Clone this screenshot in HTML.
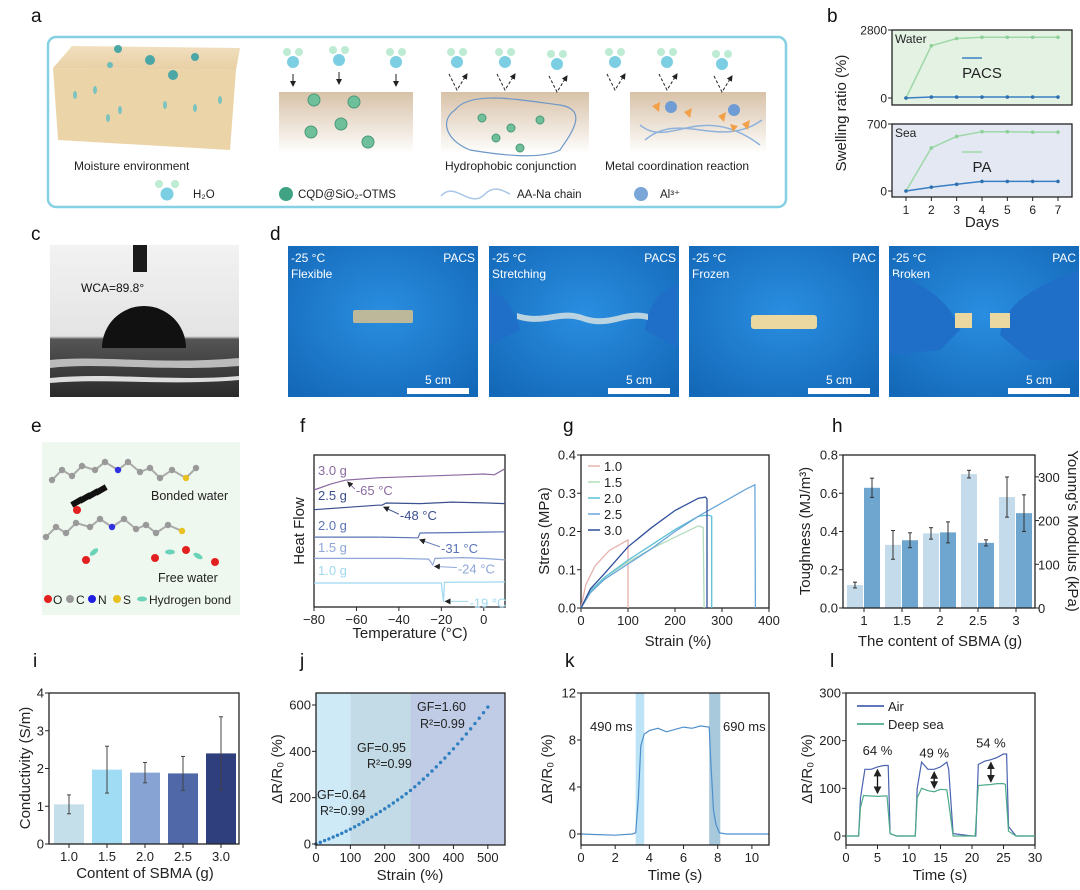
<!DOCTYPE html>
<html><head><meta charset="utf-8"><style>
html,body{margin:0;padding:0;background:#fff;}
svg{display:block;font-family:"Liberation Sans",Arial,sans-serif;}
</style></head><body>
<svg id="fig" width="1080" height="890" viewBox="0 0 1080 890" xmlns="http://www.w3.org/2000/svg">
<defs>
<linearGradient id="brown" x1="0" y1="0" x2="0" y2="1"><stop offset="0" stop-color="#d8c2a8"/><stop offset="1" stop-color="#ffffff"/></linearGradient>
<linearGradient id="tanTop" x1="0" y1="0" x2="0" y2="1"><stop offset="0" stop-color="#f1dfbf"/><stop offset="1" stop-color="#e8cfa4"/></linearGradient>
<linearGradient id="photoC" x1="0" y1="0" x2="0" y2="1"><stop offset="0" stop-color="#f2f2f2"/><stop offset="0.6" stop-color="#e4e4e4"/><stop offset="0.62" stop-color="#555"/><stop offset="1" stop-color="#2a2a2a"/></linearGradient>
<radialGradient id="blueBg" cx="0.5" cy="0.45" r="0.7"><stop offset="0" stop-color="#2a8ee0"/><stop offset="1" stop-color="#1468b8"/></radialGradient>
<marker id="ah" markerWidth="6" markerHeight="6" refX="5" refY="3" orient="auto-start-reverse"><path d="M0,0 L6,3 L0,6 z" fill="#222"/></marker>
</defs>

<g font-size="19" fill="#111">
<text x="31" y="22">a</text>
<text x="827" y="22">b</text>
<text x="31" y="240">c</text>
<text x="270" y="240">d</text>
<text x="31" y="432">e</text>
<text x="300" y="432">f</text>
<text x="563" y="432">g</text>
<text x="832" y="432">h</text>
<text x="33" y="667">i</text>
<text x="300" y="667">j</text>
<text x="565" y="667">k</text>
<text x="830" y="667">l</text>
</g>

<g>
<rect x="48" y="37" width="738" height="170" rx="8" fill="#fff" stroke="#86d0e4" stroke-width="2.5"/>
<g>
<polygon points="53,68 72,46 240,48 236,70" fill="url(#tanTop)"/>
<polygon points="53,68 236,70 230,150 58,140" fill="#ecd4a9"/>
<circle cx="118" cy="49" r="4" fill="#4aa7a5"/><circle cx="150" cy="60" r="5" fill="#4aa7a5"/><circle cx="195" cy="57" r="4" fill="#4aa7a5"/><circle cx="173" cy="75" r="5" fill="#4aa7a5"/><circle cx="110" cy="65" r="3" fill="#6cbcbc"/>
<ellipse cx="75" cy="95" rx="2" ry="4" fill="#7cc3c0"/><ellipse cx="95" cy="90" rx="2" ry="4" fill="#7cc3c0"/><ellipse cx="120" cy="110" rx="2" ry="4" fill="#7cc3c0"/><ellipse cx="165" cy="105" rx="2" ry="4" fill="#7cc3c0"/><ellipse cx="195" cy="108" rx="2" ry="4" fill="#7cc3c0"/><ellipse cx="108" cy="118" rx="2" ry="4" fill="#7cc3c0"/><ellipse cx="220" cy="100" rx="2" ry="4" fill="#7cc3c0"/>
</g>
<text x="74" y="170" font-size="12" fill="#222">Moisture environment</text>
<rect x="279" y="92" width="134" height="62" fill="url(#brown)"/>
<rect x="441" y="92" width="148" height="62" fill="url(#brown)"/>
<rect x="630" y="92" width="136" height="62" fill="url(#brown)"/>
<g id="molecules"></g>
<g fill="#6fbf9a" stroke="#4a9a7a">
<circle cx="314" cy="100" r="6"/><circle cx="354" cy="102" r="6"/><circle cx="341" cy="124" r="6"/><circle cx="311" cy="132" r="6"/><circle cx="368" cy="142" r="6"/>
<circle cx="482" cy="118" r="4"/><circle cx="511" cy="128" r="4"/><circle cx="496" cy="138" r="4"/><circle cx="540" cy="120" r="4"/><circle cx="520" cy="148" r="4"/>
</g>
<path d="M455,110 C470,90 520,100 560,105 C590,110 570,135 560,150 C540,160 500,155 470,150 C445,140 440,120 455,110z" fill="none" stroke="#6d98c8" stroke-width="1.2"/>
<path d="M640,125 C670,150 700,100 760,145 M645,140 C680,110 720,150 762,120" fill="none" stroke="#8fb2dc" stroke-width="1.5"/>
<circle cx="671" cy="107" r="6" fill="#6f9cd4"/><circle cx="734" cy="110" r="6" fill="#6f9cd4"/>
<g fill="#f2a04a"><polygon points="652,106 660,102 659,112"/><polygon points="684,112 692,108 690,118"/><polygon points="718,116 726,112 724,122"/><polygon points="742,124 750,120 748,130"/><polygon points="730,124 738,126 733,132"/></g>
<text x="445" y="170" font-size="12" fill="#222">Hydrophobic conjunction</text>
<text x="605" y="170" font-size="12" fill="#222">Metal coordination reaction</text>
<g font-size="11.5" fill="#222">
<circle cx="159" cy="184" r="4" fill="#bdebd3"/><circle cx="175" cy="184" r="4" fill="#bdebd3"/><circle cx="167" cy="194" r="6.5" fill="#7ccfe3"/>
<text x="193" y="198">H₂O</text>
<circle cx="286" cy="194" r="7" fill="#3fa383"/><text x="298" y="198">CQD@SiO₂-OTMS</text>
<path d="M441,196 C455,180 470,210 485,194 C495,184 505,192 510,194" fill="none" stroke="#a8c6e8" stroke-width="1.5"/><text x="517" y="198">AA-Na chain</text>
<circle cx="641" cy="194" r="7" fill="#7aa6d8"/><text x="660" y="198">Al³⁺</text>
</g>
</g>

<g id="panelB"></g>

<g>
<rect x="50" y="245" width="189" height="152" fill="url(#photoC)"/>
<path d="M50,360 C100,355 160,365 239,358 L239,366 C160,372 100,362 50,368z" fill="#bbb"/>
<path d="M50,378 C110,372 170,382 239,376 L239,380 C170,386 110,378 50,383z" fill="#ddd"/>
<rect x="133" y="245" width="14" height="27" fill="#1a1a1a"/>
<path d="M102,348 A42,42 0 0 1 186,348 z" fill="#111"/>
<text x="81" y="292" font-size="12" fill="#111">WCA=89.8°</text>
</g>

<g id="panelD"></g>

<g>
<rect x="42" y="442" width="198" height="173" fill="#eef8ee"/>
<g id="chains" fill="#999"></g>
<g fill="#111"><rect x="82" y="492" width="6" height="12" transform="rotate(60 85 498)"/><rect x="90" y="488" width="6" height="12" transform="rotate(60 93 494)"/><rect x="98" y="484" width="6" height="12" transform="rotate(60 101 490)"/><rect x="74" y="496" width="6" height="12" transform="rotate(60 77 502)"/></g>
<g fill="#e32020"><circle cx="77" cy="510" r="4"/><circle cx="86" cy="560" r="4"/><circle cx="155" cy="558" r="4"/><circle cx="186" cy="550" r="4"/><circle cx="215" cy="562" r="4"/></g>
<g fill="#6bd3b8"><ellipse cx="94" cy="552" rx="5" ry="2.5" transform="rotate(-40 94 552)"/><ellipse cx="170" cy="552" rx="5" ry="2.5"/><ellipse cx="198" cy="556" rx="5" ry="2.5" transform="rotate(30 198 556)"/></g>
<text x="151" y="500" font-size="12.5" fill="#222">Bonded water</text>
<text x="158" y="582" font-size="12.5" fill="#222">Free water</text>
<g font-size="12" fill="#222">
<circle cx="48" cy="599" r="4" fill="#e32020"/><text x="53" y="604">O</text>
<circle cx="70" cy="599" r="4" fill="#999"/><text x="76" y="604">C</text>
<circle cx="92" cy="599" r="4" fill="#2020e0"/><text x="98" y="604">N</text>
<circle cx="117" cy="599" r="4" fill="#e8c020"/><text x="123" y="604">S</text>
<ellipse cx="142" cy="599" rx="5" ry="2.5" fill="#6bd3b8"/><text x="149" y="604">Hydrogen bond</text>
</g>
</g>

<g id="panelF"></g>
<g id="panelG"></g>
<g id="panelH"></g>
<g id="panelI"></g>
<g id="panelJ"></g>
<g id="panelK"></g>
<g id="panelL"></g>
</svg>
<script>
// ---------- data ----------
const bDays = [1,2,3,4,5,6,7];
const bWaterPA = [0,2150,2450,2500,2500,2500,2500];
const bWaterPACS = [0,40,40,40,40,40,40];
const bSeaPA = [0,450,570,620,620,615,615];
const bSeaPACS = [0,40,70,100,100,100,100];

const fSeries = ['3.0 g','2.5 g','2.0 g','1.5 g','1.0 g'];
const fTemp = [
 [-80,-72,-65,-50,-30,-10,0,5,10],
 [-80,-60,-50,-48,-46,-30,-15,0,10],
 [-80,-50,-32,-31,-30,-10,0,10],
 [-80,-40,-26,-24,-23,-10,0,10],
 [-80,-40,-20,-19.5,-19,-18.5,-10,0,10]];
const fFlow = [
 [77,81,83.5,85,86,87,87.5,87,91],
 [64,66,67,67,68.4,68,69,68.5,68],
 [46,46,45.5,45.5,48.7,49,49.3,49.5],
 [32,32,31.5,27.6,32,32.5,32,31],
 [15.8,15.8,15.8,10,3.3,16.2,16.4,16.4,16.5]];
const fTransition = ['-65 °C','-48 °C','-31 °C','-24 °C','-19 °C'];
const fTransT = [-65,-48,-31,-24,-19];
const fTransV = [83.5,67,45.5,28,5];

const gSeries = ['1.0','1.5','2.0','2.5','3.0'];
const gStrain = [
 [0,10,30,60,100,100],
 [0,20,50,100,150,200,250,260,262],
 [0,20,50,100,150,200,250,270,278,278],
 [0,20,50,100,150,200,250,300,350,370,371],
 [0,20,50,100,150,200,250,265,268,268]];
const gStress = [
 [0,0.06,0.11,0.15,0.178,0],
 [0,0.04,0.08,0.12,0.155,0.185,0.215,0.21,0],
 [0,0.045,0.08,0.125,0.165,0.205,0.24,0.243,0.24,0],
 [0,0.04,0.075,0.115,0.155,0.2,0.24,0.275,0.31,0.322,0],
 [0,0.05,0.09,0.16,0.21,0.255,0.287,0.29,0.285,0]];

const hCats = ['1','1.5','2','2.5','3'];
const hTough = [0.12,0.33,0.39,0.70,0.58];
const hToughErr = [0.015,0.075,0.03,0.02,0.105];
const hModulus = [275,155,173,149,217];
const hModulusErr = [22,17,24,7,42];

const iCats = ['1.0','1.5','2.0','2.5','3.0'];
const iCond = [1.05,1.97,1.89,1.87,2.4];
const iErr = [0.25,0.62,0.27,0.45,0.97];

const jStrain = [0,12.5,25,37.5,50,62.5,75,87.5,100,112.5,125,137.5,150,162.5,175,187.5,200,212.5,225,237.5,250,262.5,275,287.5,300,312.5,325,337.5,350,362.5,375,387.5,400,412.5,425,437.5,450,462.5,475,487.5,500];
const jDR = [0,7,15,22,30,38,46,55,64,74,84,95,106,117,128,140,152,164,177,190,203,217,231,247,263,280,297,315,333,352,371,391,411,432,453,475,497,520,543,567,591];
const jRegions = [[0,100],[100,275],[275,550]];

const kTime = [0,1,2,3,3.2,3.35,3.5,3.7,4,4.5,5,5.5,6,6.5,7,7.5,7.6,7.75,7.9,8.1,8.5,9,10,11];
const kDR = [0,-0.05,-0.1,0,0.1,3,7.5,8.5,8.8,9.0,8.7,8.9,9.1,9.0,9.2,9.1,6,2,0.8,0.1,0,0,0,0];
const kBands = [[3.2,3.7],[7.5,8.15]];

const lAirT = [0,2,2.3,3,4,5,6,6.7,7,8,11,11.3,12,13,14,15,16,16.3,17,20,20.6,21,22,23,24,25,25.5,25.8,27,30];
const lAirV = [0,0,80,140,140,145,148,148,5,0,0,100,155,140,140,145,155,140,5,0,0,150,157,160,165,172,172,20,0,0];
const lSeaT = [0,2,2.3,2.8,4,5,6,6.5,7,8,11,11.3,12,13,14,15,16,16.3,17,20,20.5,21,22,23,24,25,25.3,25.8,27,30];
const lSeaV = [0,0,60,85,84,83,84,84,5,0,0,80,100,95,93,98,97,70,0,0,0,106,107,108,110,110,108,10,0,0];
const lDiffT = [5,14,23];
const lDiffTop = [145,140,160];
const lDiffBot = [84,95,108];
const lDiffLabel = ['64 %','49 %','54 %'];

// ---------- helpers ----------
const NS='http://www.w3.org/2000/svg';
function mk(tag,attrs,parent){const e=document.createElementNS(NS,tag);for(const k in attrs)e.setAttribute(k,attrs[k]);parent.appendChild(e);return e;}
function lin(d0,d1,r0,r1){return v=>r0+(v-d0)/(d1-d0)*(r1-r0);}
function txt(parent,x,y,s,size,anchor,fill,rot){const t=mk('text',{x:x,y:y,'font-size':size,'text-anchor':anchor||'start',fill:fill||'#222'},parent);if(rot!==undefined)t.setAttribute('transform','rotate('+rot+' '+x+' '+y+')');t.textContent=s;return t;}
function frame(g,x0,y0,x1,y1,fill){const r=mk('rect',{x:x0,y:y0,width:x1-x0,height:y1-y0,fill:fill||'none',stroke:'#222','stroke-width':1.3},g);return r;}
function xTicks(g,vals,labels,sx,y,size){vals.forEach((v,i)=>{mk('line',{x1:sx(v),x2:sx(v),y1:y,y2:y+4,stroke:'#222'},g);const t=txt(g,sx(v),y+17,labels[i],size||13,'middle');});}
function yTicks(g,vals,labels,sy,x,size){vals.forEach((v,i)=>{mk('line',{x1:x-4,x2:x,y1:sy(v),y2:sy(v),stroke:'#222'},g);const t=txt(g,x-5,sy(v)+4.5,labels[i],size||13,'end');});}
function path(xs,ys,sx,sy){return xs.map((v,i)=>(i?'L':'M')+sx(v).toFixed(1)+','+sy(ys[i]).toFixed(1)).join(' ');}

// ---------- panel b ----------
(function(){
 const g=document.getElementById('panelB');
 const X0=892,X1=1072; const sx=lin(1,7,906,1058);
 const subs=[{y0:30,y1:105,max:2800,top:30,zero:98,fill:'#e4f2e4',pa:bWaterPA,pacs:bWaterPACS,name:'Water',leg:'PACS',legc:'#3a7fc4'},
             {y0:124,y1:197,max:700,top:124,zero:191,fill:'#e3e8f2',pa:bSeaPA,pacs:bSeaPACS,name:'Sea',leg:'PA',legc:'#9fd8a8'}];
 subs.forEach(s=>{
  frame(g,X0,s.y0,X1,s.y1,s.fill);
  const sy=lin(0,s.max,s.zero,s.top);
  yTicks(g,[0,s.max],['0',String(s.max)],sy,X0,12);
  txt(g,X0+3,s.y0+13,s.name,12);
  const p1=mk('path',{d:path(bDays,s.pa,sx,sy),fill:'none',stroke:'#9fd8a8','stroke-width':1.5},g);
  
  const p2=mk('path',{d:path(bDays,s.pacs,sx,sy),fill:'none',stroke:'#3a7fc4','stroke-width':1.5},g);
  
  bDays.forEach((d,i)=>{mk('circle',{cx:sx(d),cy:sy(s.pa[i]),r:1.8,fill:'#8ccf98'},g);mk('circle',{cx:sx(d),cy:sy(s.pacs[i]),r:1.8,fill:'#2f6fb0'},g);});
  mk('line',{x1:962,x2:982,y1:s.y0+28,y2:s.y0+28,stroke:s.legc,'stroke-width':1.5},g);
  const lt=txt(g,982,s.y0+48,s.leg,15,'middle');
 });
 xTicks(g,bDays,bDays.map(String),sx,197,12);
 txt(g,982,227,'Days',15,'middle');
 txt(g,846,113,'Swelling ratio (%)',15,'middle','#222',-90);
})();

// ---------- panel d ----------
(function(){
 const g=document.getElementById('panelD');
 const photos=[{x:288,tag:'PACS',st:'Flexible'},{x:489,tag:'PACS',st:'Stretching'},{x:689,tag:'PAC',st:'Frozen'},{x:889,tag:'PAC',st:'Broken'}];
 photos.forEach((p,i)=>{
  const r=mk('rect',{x:p.x,y:246,width:190,height:151,fill:'url(#blueBg)'},g);
  
  txt(g,p.x+3,262,'-25 °C',12,'start','#fff');
  txt(g,p.x+3,278,p.st,12,'start','#fff');
  txt(g,p.x+187,262,p.tag,12,'end','#fff');
  mk('rect',{x:p.x+119,y:388,width:62,height:6,fill:'#fff'},g);
  txt(g,p.x+150,384,'5 cm',12,'middle','#fff');
 });
 mk('rect',{x:353,y:310,width:60,height:13,rx:2,fill:'#bdb89a'},g);
 mk('path',{d:'M489,290 C505,295 515,310 520,330 L489,345z',fill:'#1f6fc8'},g);
 mk('path',{d:'M677,285 C660,290 648,305 645,330 L677,348z',fill:'#1f6fc8'},g);
 mk('path',{d:'M517,313 C545,322 560,306 585,316 C610,324 625,308 648,314 L648,320 C625,314 610,330 585,322 C560,312 545,328 517,319z',fill:'#b9d4e0'},g);
 mk('rect',{x:751,y:315,width:66,height:14,rx:3,fill:'#ead8a0'},g);
 mk('path',{d:'M889,275 C920,280 950,300 960,330 L940,350 L889,355z',fill:'#1f6fc8'},g);
 mk('path',{d:'M1079,270 C1040,285 1005,300 1000,335 L1030,360 L1079,360z',fill:'#1f6fc8'},g);
 mk('rect',{x:955,y:313,width:17,height:15,fill:'#ead8a0'},g);
 mk('rect',{x:990,y:313,width:20,height:15,fill:'#ead8a0'},g);
})();

(function(){
 const g=document.getElementById('chains');
 const chain1=[[52,480],[62,470],[72,476],[82,466],[95,470],[105,462],[118,470],[128,462],[140,472],[150,468],[160,478],[172,470],[186,478],[196,468]];
 const chain2=[[46,537],[56,527],[66,533],[76,523],[90,527],[100,519],[112,527],[124,519],[136,529],[146,525],[156,533],[168,525],[182,531]];
 [chain1,chain2].forEach(c=>{
  mk('polyline',{points:c.map(p=>p.join(',')).join(' '),fill:'none',stroke:'#aaa','stroke-width':2},g);
  c.forEach((p,i)=>mk('circle',{cx:p[0],cy:p[1],r:3.2,fill:i===6?'#3030e0':(i===12?'#e8c020':'#999')},g));
 });
})();

// ---------- panel f ----------
(function(){
 const g=document.getElementById('panelF');
 const X0=314,X1=505,Y0=455,Y1=607;
 const sx=lin(-80,10,X0,X1), sy=lin(0,100,Y1,Y0);
 frame(g,X0,Y0,X1,Y1);
 xTicks(g,[-80,-60,-40,-20,0],['−80','−60','−40','−20','0'],sx,Y1,13);
 const cols=['#8a6aa0','#3c4f8e','#5a74b6','#8ea6d8','#9fd8f0'];
 const labY=[475,500,530,552,575];
 const offX=[10,18,23,25,26], offY=[15,15,15,9,8];
 fSeries.forEach((s,i)=>{
  const p=mk('path',{d:path(fTemp[i],fFlow[i],sx,sy),fill:'none',stroke:cols[i],'stroke-width':1.2},g);
  
  txt(g,318,labY[i],s,13,'start',cols[i]);
  const tx=sx(fTransT[i]), ty=sy(fTransV[i]);
  mk('line',{x1:tx+offX[i]-1,y1:ty+offY[i]-6,x2:tx+2,y2:ty+2,stroke:cols[i],'marker-end':'url(#ah)'},g);
  txt(g,tx+offX[i],ty+offY[i],fTransition[i],13,'start',cols[i]);
 });
 txt(g,410,638,'Temperature (°C)',15,'middle');
 txt(g,304,531,'Heat Flow',15,'middle','#222',-90);
})();

// ---------- panel g ----------
(function(){
 const g=document.getElementById('panelG');
 const X0=581,X1=769,Y0=455,Y1=608;
 const sx=lin(0,400,X0,X1), sy=lin(0,0.4,Y1,Y0);
 frame(g,X0,Y0,X1,Y1);
 xTicks(g,[0,100,200,300,400],['0','100','200','300','400'],sx,Y1,13);
 yTicks(g,[0,0.1,0.2,0.3,0.4],['0.0','0.1','0.2','0.3','0.4'],sy,X0,13);
 const cols=['#e6b2ae','#b3dcbc','#5cc0d6','#6aa6d8','#2f4f9c'];
 gSeries.forEach((s,i)=>{
  const p=mk('path',{d:path(gStrain[i],gStress[i],sx,sy),fill:'none',stroke:cols[i],'stroke-width':1.3},g);
  
  mk('line',{x1:588,x2:600,y1:466+i*16,y2:466+i*16,stroke:cols[i],'stroke-width':1.5},g);
  const lt=txt(g,604,471+i*16,s,13);
 });
 txt(g,678,646,'Strain (%)',15,'middle');
 txt(g,549,531,'Stress (MPa)',15,'middle','#222',-90);
})();

// ---------- panel h ----------
(function(){
 const g=document.getElementById('panelH');
 const X0=843,X1=1035,Y0=455,Y1=608;
 const sy=lin(0,0.8,Y1,Y0), sy2=lin(0,350,Y1,Y0);
 const cx=i=>864+i*38;
 hCats.forEach((c,i)=>{
  const b1=mk('rect',{x:cx(i)-17,y:sy(hTough[i]),width:16,height:Y1-sy(hTough[i]),fill:'#c3dbea'},g);
  
  const b2=mk('rect',{x:cx(i),y:sy2(hModulus[i]),width:16,height:Y1-sy2(hModulus[i]),fill:'#6fa6cf'},g);
  
  [[cx(i)-9,sy(hTough[i]-hToughErr[i]),sy(hTough[i]+hToughErr[i])],[cx(i)+8,sy2(hModulus[i]-hModulusErr[i]),sy2(hModulus[i]+hModulusErr[i])]].forEach(e=>{
   mk('line',{x1:e[0],x2:e[0],y1:e[1],y2:e[2],stroke:'#333'},g);
   mk('line',{x1:e[0]-2,x2:e[0]+2,y1:e[1],y2:e[1],stroke:'#333'},g);
   mk('line',{x1:e[0]-2,x2:e[0]+2,y1:e[2],y2:e[2],stroke:'#333'},g);
  });
 });
 frame(g,X0,Y0,X1,Y1);
 const sxc=v=>cx(hCats.indexOf(v));
 xTicks(g,hCats,hCats,sxc,Y1,13);
 yTicks(g,[0,0.2,0.4,0.6,0.8],['0.0','0.2','0.4','0.6','0.8'],sy,X0,13);
 [0,100,200,300].forEach(v=>{mk('line',{x1:X1,x2:X1+4,y1:sy2(v),y2:sy2(v),stroke:'#222'},g);const t=txt(g,X1+3,sy2(v)+5,String(v),13,'start');});
 txt(g,940,646,'The content of SBMA (g)',15,'middle');
 txt(g,810,531,'Toughness (MJ/m³)',15,'middle','#222',-90);
 txt(g,1068,531,"Younng's Modulus (kPa)",15,'middle','#222',90);
})();

// ---------- panel i ----------
(function(){
 const g=document.getElementById('panelI');
 const X0=49,X1=239,Y0=693,Y1=844;
 const sy=lin(0,4,Y1,Y0); const cx=i=>69+i*38;
 const cols=['#c5dfea','#a0dcf4','#87a3d4','#5068a8','#2f3e7c'];
 iCats.forEach((c,i)=>{
  const b=mk('rect',{x:cx(i)-15,y:sy(iCond[i]),width:30,height:Y1-sy(iCond[i]),fill:cols[i]},g);
  
  const a=sy(iCond[i]-iErr[i]),bb=sy(iCond[i]+iErr[i]);
  mk('line',{x1:cx(i),x2:cx(i),y1:a,y2:bb,stroke:'#444'},g);
  mk('line',{x1:cx(i)-2,x2:cx(i)+2,y1:a,y2:a,stroke:'#444'},g);
  mk('line',{x1:cx(i)-2,x2:cx(i)+2,y1:bb,y2:bb,stroke:'#444'},g);
 });
 frame(g,X0,Y0,X1,Y1);
 xTicks(g,iCats,iCats,v=>cx(iCats.indexOf(v)),Y1,13);
 yTicks(g,[0,1,2,3,4],['0','1','2','3','4'],sy,X0,13);
 txt(g,145,878,'Content of SBMA (g)',15,'middle');
 txt(g,30,768,'Conductivity (S/m)',15,'middle','#222',-90);
})();

// ---------- panel j ----------
(function(){
 const g=document.getElementById('panelJ');
 const X0=316,X1=505,Y0=693,Y1=845;
 const sx=lin(0,550,X0,X1), sy=lin(0,600,844,705);
 const cols=['#cfeaf7','#c3dbe6','#c0cce6'];
 jRegions.forEach((r,i)=>{const b=mk('rect',{x:sx(r[0]),y:Y0,width:sx(r[1])-sx(r[0]),height:Y1-Y0,fill:cols[i]},g);});
 jStrain.forEach((s,i)=>{const c=mk('circle',{cx:sx(s),cy:sy(jDR[i]),r:1.7,fill:'#2f7fc0'},g);});
 frame(g,X0,Y0,X1,Y1);
 xTicks(g,[0,100,200,300,400,500],['0','100','200','300','400','500'],sx,Y1,13);
 yTicks(g,[0,200,400,600],['0','200','400','600'],sy,X0,13);
 txt(g,417,711,'GF=1.60',12.5);txt(g,420,728,'R²=0.99',12.5);
 txt(g,357,752,'GF=0.95',12.5);txt(g,367,768,'R²=0.99',12.5);
 txt(g,317,799,'GF=0.64',12.5);txt(g,320,815,'R²=0.99',12.5);
 txt(g,410,880,'Strain (%)',15,'middle');
 txt(g,282,769,'ΔR/R₀ (%)',15,'middle','#222',-90);
})();

// ---------- panel k ----------
(function(){
 const g=document.getElementById('panelK');
 const X0=581,X1=769,Y0=693,Y1=845;
 const sx=lin(0,11,X0,X1), sy=lin(0,12,834,693);
 const cols=['#bde4f6','#a8c9dc'];
 kBands.forEach((b,i)=>{const r=mk('rect',{x:sx(b[0]),y:Y0,width:sx(b[1])-sx(b[0]),height:Y1-Y0,fill:cols[i]},g);});
 const p=mk('path',{d:path(kTime,kDR,sx,sy),fill:'none',stroke:'#4f8fcc','stroke-width':1.2},g);
 
 frame(g,X0,Y0,X1,Y1);
 xTicks(g,[0,2,4,6,8,10],['0','2','4','6','8','10'],sx,Y1,13);
 yTicks(g,[0,4,8,12],['0','4','8','12'],sy,X0,13);
 txt(g,590,731,'490 ms',13);txt(g,723,731,'690 ms',13);
 txt(g,675,880,'Time (s)',15,'middle');
 txt(g,552,769,'ΔR/R₀ (%)',15,'middle','#222',-90);
})();

// ---------- panel l ----------
(function(){
 const g=document.getElementById('panelL');
 const X0=846,X1=1035,Y0=693,Y1=845;
 const sx=lin(0,30,X0,X1), sy=lin(0,300,836,693);
 frame(g,X0,Y0,X1,Y1);
 const p1=mk('path',{d:path(lAirT,lAirV,sx,sy),fill:'none',stroke:'#4a62b0','stroke-width':1.2},g);
 
 const p2=mk('path',{d:path(lSeaT,lSeaV,sx,sy),fill:'none',stroke:'#4dab88','stroke-width':1.2},g);
 
 lDiffT.forEach((t,i)=>{
  mk('line',{x1:sx(t),x2:sx(t),y1:sy(lDiffTop[i])+3,y2:sy(lDiffBot[i])-3,stroke:'#111','stroke-width':1.3,'marker-end':'url(#ah)','marker-start':'url(#ah)'},g);
  txt(g,sx(t),sy(lDiffTop[i])-12,lDiffLabel[i],13,'middle');
 });
 xTicks(g,[0,5,10,15,20,25,30],['0','5','10','15','20','25','30'],sx,Y1,13);
 yTicks(g,[0,100,200,300],['0','100','200','300'],sy,X0,13);
 mk('line',{x1:857,x2:884,y1:706,y2:706,stroke:'#4a62b0','stroke-width':1.8},g);
 mk('line',{x1:857,x2:884,y1:724,y2:724,stroke:'#4dab88','stroke-width':1.8},g);
 const l1=txt(g,888,711,'Air',13);
 const l2=txt(g,888,729,'Deep sea',13);
 txt(g,940,880,'Time (s)',15,'middle');
 txt(g,812,769,'ΔR/R₀ (%)',15,'middle','#222',-90);
})();

(function(){
 const g=document.getElementById('molecules');
 const pos=[[293,62],[339,60],[396,62],[457,62],[505,62],[557,64],[615,62],[667,62],[722,64]];
 pos.forEach((p,i)=>{
  mk('circle',{cx:p[0]-6,cy:p[1]-10,r:4,fill:'#bdebd3'},g);
  mk('circle',{cx:p[0]+6,cy:p[1]-10,r:4,fill:'#bdebd3'},g);
  mk('circle',{cx:p[0],cy:p[1],r:6,fill:'#7ccfe3'},g);
  if(i<3){mk('line',{x1:p[0],x2:p[0],y1:p[1]+12,y2:p[1]+24,stroke:'#222','marker-end':'url(#ah)'},g);}
  else{mk('path',{d:'M'+(p[0]-8)+','+(p[1]+12)+' L'+p[0]+','+(p[1]+28)+' L'+(p[0]+10)+','+(p[1]+12),fill:'none',stroke:'#222','stroke-dasharray':'3,2','marker-end':'url(#ah)'},g);}
 });
})();
</script>
</body></html>
